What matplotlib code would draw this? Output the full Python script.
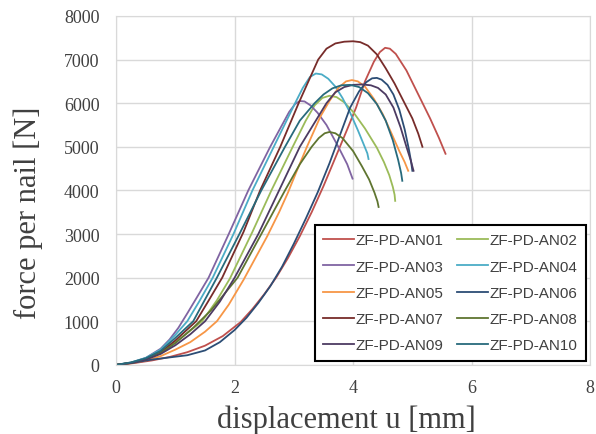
import matplotlib
matplotlib.use('Agg')
import matplotlib.pyplot as plt

########################################################################################
'DATA (read off the reference picture)'

names = ['ZF-PD-AN01', 'ZF-PD-AN02', 'ZF-PD-AN03', 'ZF-PD-AN04', 'ZF-PD-AN05',
         'ZF-PD-AN06', 'ZF-PD-AN07', 'ZF-PD-AN08', 'ZF-PD-AN09', 'ZF-PD-AN10']
colors = ['#C0504D', '#9BBB59', '#8064A2', '#4BACC6', '#F79646',
          '#2C4D75', '#772C2A', '#5F7530', '#4D3B62', '#276A7C']

# displacement [mm] / force per nail [N]
u_an01 = [0, 0.3, 0.6, 0.9, 1.2, 1.5, 1.8, 2.1, 2.3, 2.5, 2.7, 2.9, 3.1, 3.3, 3.5, 3.7, 3.9, 4.05, 4.2, 4.35, 4.45, 4.54, 4.62, 4.72, 4.9, 5.1, 5.3, 5.45, 5.56]
f_an01 = [0, 40, 100, 180, 290, 440, 660, 980, 1280, 1620, 2000, 2450, 2950, 3500, 4100, 4750, 5400, 5900, 6500, 6950, 7170, 7270, 7250, 7130, 6750, 6200, 5650, 5200, 4840]

u_an02 = [0, 0.25, 0.5, 0.75, 1.0, 1.2, 1.45, 1.7, 1.92, 2.3, 2.62, 2.98, 3.2, 3.35, 3.48, 3.6, 3.72, 3.85, 4.0, 4.2, 4.4, 4.52, 4.61, 4.67, 4.7, 4.71]
f_an02 = [0, 45, 130, 280, 520, 730, 1000, 1480, 1980, 3050, 4000, 5000, 5600, 5950, 6120, 6170, 6140, 6020, 5800, 5420, 4980, 4650, 4350, 4080, 3900, 3760]

u_an03 = [0, 0.25, 0.5, 0.75, 0.9, 1.05, 1.2, 1.35, 1.56, 1.9, 2.23, 2.6, 2.8, 2.92, 3.02, 3.1, 3.18, 3.28, 3.4, 3.55, 3.75, 3.9, 3.99]
f_an03 = [0, 50, 160, 370, 580, 850, 1180, 1520, 2000, 3000, 4000, 5000, 5500, 5800, 5980, 6050, 6040, 5950, 5780, 5500, 5000, 4600, 4270]

u_an04 = [0, 0.25, 0.5, 0.75, 1.0, 1.2, 1.4, 1.63, 1.98, 2.3, 2.66, 3.02, 3.15, 3.27, 3.37, 3.47, 3.58, 3.7, 3.82, 3.95, 4.08, 4.18, 4.24, 4.26]
f_an04 = [0, 55, 160, 350, 690, 1000, 1450, 2000, 3000, 4000, 5000, 6000, 6350, 6600, 6680, 6660, 6560, 6380, 6120, 5780, 5380, 5050, 4850, 4720]

u_an05 = [0, 0.25, 0.5, 0.75, 1.0, 1.25, 1.5, 1.7, 1.9, 2.15, 2.35, 2.55, 2.75, 2.9, 3.05, 3.22, 3.45, 3.6, 3.75, 3.88, 3.98, 4.08, 4.2, 4.35, 4.5, 4.65, 4.78, 4.87, 4.93]
f_an05 = [0, 35, 100, 200, 350, 520, 760, 1000, 1380, 1950, 2450, 2950, 3500, 3950, 4450, 5000, 5700, 6050, 6350, 6500, 6530, 6500, 6380, 6100, 5750, 5300, 4900, 4650, 4450]

u_an06 = [0, 0.3, 0.6, 0.9, 1.2, 1.5, 1.75, 2.0, 2.2, 2.4, 2.6, 2.8, 3.0, 3.2, 3.4, 3.6, 3.8, 3.95, 4.1, 4.22, 4.32, 4.4, 4.48, 4.58, 4.68, 4.78, 4.87, 4.94, 4.98, 5.0]
f_an06 = [0, 50, 120, 170, 220, 330, 520, 800, 1080, 1420, 1800, 2250, 2780, 3350, 3950, 4620, 5350, 5900, 6270, 6480, 6570, 6580, 6540, 6420, 6200, 5850, 5400, 4950, 4650, 4450]

u_an07 = [0, 0.25, 0.5, 0.75, 1.0, 1.35, 1.55, 1.79, 2.15, 2.43, 2.77, 3.08, 3.41, 3.55, 3.7, 3.85, 4.0, 4.12, 4.25, 4.4, 4.55, 4.7, 4.85, 5.0, 5.1, 5.17]
f_an07 = [0, 45, 130, 290, 560, 1000, 1450, 2000, 3050, 4000, 5000, 6000, 7000, 7250, 7370, 7410, 7420, 7400, 7320, 7120, 6800, 6450, 6050, 5650, 5300, 5000]

u_an08 = [0, 0.25, 0.5, 0.75, 1.0, 1.3, 1.6, 2.05, 2.45, 2.85, 3.1, 3.3, 3.42, 3.52, 3.6, 3.7, 3.82, 4.0, 4.15, 4.27, 4.36, 4.41, 4.43]
f_an08 = [0, 45, 130, 270, 500, 850, 1250, 2000, 3000, 4000, 4600, 5000, 5200, 5310, 5340, 5310, 5200, 4900, 4550, 4250, 3950, 3750, 3620]

u_an09 = [0, 0.25, 0.5, 0.75, 1.0, 1.25, 1.5, 1.75, 2.0, 2.4, 2.75, 3.1, 3.55, 3.7, 3.85, 4.0, 4.15, 4.3, 4.42, 4.55, 4.68, 4.8, 4.9, 4.97, 5.02]
f_an09 = [0, 40, 120, 250, 450, 700, 1000, 1450, 2000, 3000, 4000, 5000, 6000, 6250, 6370, 6420, 6430, 6410, 6350, 6200, 5900, 5450, 5000, 4700, 4450]

u_an10 = [0, 0.25, 0.5, 0.75, 1.0, 1.3, 1.5, 1.7, 2.08, 2.45, 2.85, 3.1, 3.35, 3.5, 3.65, 3.8, 3.95, 4.1, 4.25, 4.4, 4.55, 4.67, 4.76, 4.81, 4.83]
f_an10 = [0, 55, 150, 320, 620, 1000, 1500, 2000, 3000, 4000, 5000, 5600, 6000, 6200, 6340, 6410, 6420, 6370, 6230, 5980, 5600, 5150, 4700, 4400, 4220]

U = [u_an01, u_an02, u_an03, u_an04, u_an05, u_an06, u_an07, u_an08, u_an09, u_an10]
F = [f_an01, f_an02, f_an03, f_an04, f_an05, f_an06, f_an07, f_an08, f_an09, f_an10]

x_ticks = [0, 2, 4, 6, 8]
y_ticks = [0, 1000, 2000, 3000, 4000, 5000, 6000, 7000, 8000]

########################################################################################
'PLOT'

fig = plt.figure(figsize=(5.96, 4.35), dpi=100)
ax = fig.add_axes([0.195, 0.159, 0.795, 0.802])

lines = []
for u, f, name, c in zip(U, F, names, colors):
    ln, = ax.plot(u, f, color=c, lw=1.3, label=name)
    lines.append(ln)

ax.set_xlim(0, 8)
ax.set_ylim(0, 8000)
ax.set_xticks(x_ticks)
ax.set_yticks(y_ticks)
ax.grid(True, color='#D9D9D9', lw=1)
ax.set_axisbelow(True)
for s in ax.spines.values():
    s.set_color('#D9D9D9')
ax.tick_params(axis='y', length=0, labelsize=13, labelcolor='#404040', pad=12)
ax.tick_params(axis='x', length=0, labelsize=13, labelcolor='#404040', pad=10)
for lab in ax.get_xticklabels() + ax.get_yticklabels():
    lab.set_family('Liberation Serif')

ax.set_xlabel('displacement u [mm]', family='Liberation Serif', fontsize=22, color='#404040')
ax.xaxis.set_label_coords(0.485, -0.115)
ax.set_ylabel('force per nail [N]', family='Liberation Serif', fontsize=22, color='#404040')
ax.yaxis.set_label_coords(-0.155, 0.44)

# legend is filled row by row in the reference: reorder for matplotlib's column filling
order = [0, 2, 4, 6, 8, 1, 3, 5, 7, 9]
leg = ax.legend([lines[i] for i in order], [names[i] for i in order],
                ncol=2, loc='lower right', bbox_to_anchor=(0.997, 0.003),
                prop={'family': 'Liberation Sans', 'size': 11},
                frameon=True, fancybox=False, handlelength=2.0, handletextpad=0.1,
                columnspacing=0.9, labelspacing=0.8, borderpad=0.55, borderaxespad=0.2)
leg.get_frame().set_edgecolor('black')
leg.get_frame().set_linewidth(1.5)
leg.get_frame().set_alpha(1)
for t in leg.get_texts():
    t.set_color('#404040')

fig.savefig('out.png', dpi=100)
